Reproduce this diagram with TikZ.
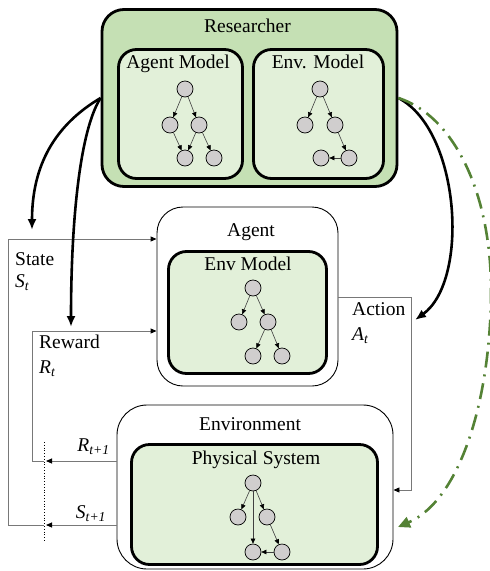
\documentclass[tikz,border=0pt]{standalone}
\usepackage{fontspec}
\setmainfont{Liberation Serif}
\usetikzlibrary{arrows.meta}
\definecolor{resfill}{RGB}{197,224,180}
\definecolor{infill}{RGB}{226,240,217}
\definecolor{dgreen}{RGB}{84,130,53}
\definecolor{nodegray}{RGB}{208,206,206}
\definecolor{linegray}{RGB}{120,120,120}
\begin{document}
\begin{tikzpicture}[x=1pt,y=-1pt,
  lbl/.style={font=\fontsize{19.5}{22}\selectfont, inner sep=0pt},
  thickbox/.style={draw=black, line width=2.8pt, rounded corners=18pt, inner sep=0pt},
  thinbox/.style={draw=black, line width=0.9pt, rounded corners=26pt, fill=white, inner sep=0pt},
  tn/.style={circle, draw=black, line width=0.7pt, fill=nodegray, minimum size=16pt, inner sep=0pt},
  te/.style={draw=black!75, line width=0.6pt, -{Triangle[length=5pt,width=4.5pt,color=black]}},
  conn/.style={draw=linegray, line width=0.9pt},
  conna/.style={conn, -{Triangle[length=6pt,width=5pt,color=black]}},
  bigarrow/.style={draw=black, line width=2.6pt, -{Latex[length=11pt,width=9pt]}},
  greenarrow/.style={draw=dgreen, line width=2.6pt, dash pattern=on 16pt off 7pt on 2pt off 7pt, -{Triangle[length=12pt,width=11pt]}}
]
\useasboundingbox (0,0) rectangle (490,571);

% ---------- Researcher ----------
\node[thickbox, fill=resfill, rounded corners=22pt, minimum width=295pt, minimum height=177pt] (res) at (249.5,98) {};
\node[lbl, anchor=base] (tres) at (247.5,32) {Researcher};
\node[thickbox, fill=infill, minimum width=124pt, minimum height=129pt] (am) at (180.5,114) {};
\node[lbl, anchor=base] (tam) at (178,68) {Agent Model};
\node[thickbox, fill=infill, minimum width=130pt, minimum height=129pt] (em) at (318.5,114) {};
\node[lbl, anchor=base] (tem) at (318,68) {Env. Model};

% Agent Model tree
\node[tn] (a1) at (185,89) {};
\node[tn] (a2) at (170,125) {};
\node[tn] (a3) at (199,125) {};
\node[tn] (a4) at (185,158) {};
\node[tn] (a5) at (214,158) {};
\draw[te] (a1) -- (a2);
\draw[te] (a1) -- (a3);
\draw[te] (a2) -- (a4);
\draw[te] (a3) -- (a4);
\draw[te] (a3) -- (a5);

% Env. Model tree
\node[tn] (b1) at (320,89) {};
\node[tn] (b2) at (305,125) {};
\node[tn] (b3) at (335,125) {};
\node[tn] (b4) at (349,158) {};
\node[tn] (b5) at (321,158) {};
\draw[te] (b1) -- (b2);
\draw[te] (b1) -- (b3);
\draw[te] (b3) -- (b4);
\draw[te] (b4) -- (b5);

% ---------- Agent ----------
\node[thinbox, minimum width=181pt, minimum height=179pt] (agent) at (247.5,296.5) {};
\node[lbl, anchor=base] (tagent) at (251,236) {Agent};
\node[thickbox, fill=infill, minimum width=158pt, minimum height=122pt] (aem) at (247.5,312.5) {};
\node[lbl, anchor=base] (taem) at (248,270) {Env Model};

\node[tn] (c1) at (253,288) {};
\node[tn] (c2) at (239,322) {};
\node[tn] (c3) at (268,322) {};
\node[tn] (c4) at (253,356) {};
\node[tn] (c5) at (282,356) {};
\draw[te] (c1) -- (c2);
\draw[te] (c1) -- (c3);
\draw[te] (c3) -- (c4);
\draw[te] (c3) -- (c5);

% ---------- Environment ----------
\node[thinbox, rounded corners=30pt, minimum width=276pt, minimum height=164pt] (env) at (255,487) {};
\node[lbl, anchor=base] (tenv) at (250,430) {Environment};
\node[thickbox, fill=infill, minimum width=246pt, minimum height=120pt] (phys) at (254.5,504.5) {};
\node[lbl, anchor=base] (tphys) at (256,464) {Physical System};

\node[tn] (d1) at (253,483) {};
\node[tn] (d2) at (238,517) {};
\node[tn] (d3) at (267,517) {};
\node[tn] (d4) at (253,552) {};
\node[tn] (d5) at (282,552) {};
\draw[te] (d1) -- (d2);
\draw[te] (d1) -- (d4);
\draw[te] (d1) -- (d3);
\draw[te] (d3) -- (d5);
\draw[te] (d5) -- (d4);

% ---------- connectors ----------
\coordinate (sT) at (44,525);
\coordinate (rT) at (44,461);
\coordinate (sTa) at (46,525);
\coordinate (rTa) at (46,461);
\coordinate (sy) at (0,239);
\coordinate (ry) at (0,331);
\coordinate (ay) at (0,297);
\coordinate (ey) at (0,490);
\coordinate (dtop) at (44,442);
\coordinate (dbot) at (44,542);

\draw[conna] (env.west |- sT) -- (sTa);
\draw[conna] (env.west |- rT) -- (rTa);
\draw[conna] (sT) -- (8,525) -- (8,239) -- (agent.west |- sy);
\draw[conna] (rT) -- (32,461) -- (32,331) -- (agent.west |- ry);
\draw[conna] (agent.east |- ay) -- (411,297) -- (411,490) -- (env.east |- ey);
\draw[black, line width=0.8pt, dotted] (dtop) -- (dbot);

% labels
\node[lbl, anchor=base west] (lstate) at (15,265) {State};
\node[lbl, anchor=base west] (lst) at (15,287) {\textit{S\textsubscript{t}}};
\node[lbl, anchor=base west] (lrew) at (39,348) {Reward};
\node[lbl, anchor=base west] (lrt) at (39,373) {\textit{R\textsubscript{t}}};
\node[lbl, anchor=base west] (lact) at (352,315) {Action};
\node[lbl, anchor=base west] (lat) at (352,340) {\textit{A\textsubscript{t}}};
\node[lbl, anchor=base] (lrt1) at (93.5,451) {\textit{R\textsubscript{t+1}}};
\node[lbl, anchor=base] (lst1) at (91,518) {\textit{S\textsubscript{t+1}}};

% ---------- researcher arrows ----------
\coordinate (stip) at (32,230);
\coordinate (rtip) at (71,327);
\coordinate (atip) at (415,320);
\coordinate (gtip) at (398,527);
\draw[bigarrow] (res.west) .. controls (55,125) and (32,165) .. (stip);
\draw[bigarrow] (res.west) .. controls (80,130) and (71,220) .. (rtip);
\draw[bigarrow] (res.east) .. controls (460,130) and (470,280) .. (atip);
\draw[greenarrow] (res.east) .. controls (452,115) and (491,190) .. (491,290) .. controls (491,400) and (460,500) .. (gtip);
\end{tikzpicture}
\end{document}
